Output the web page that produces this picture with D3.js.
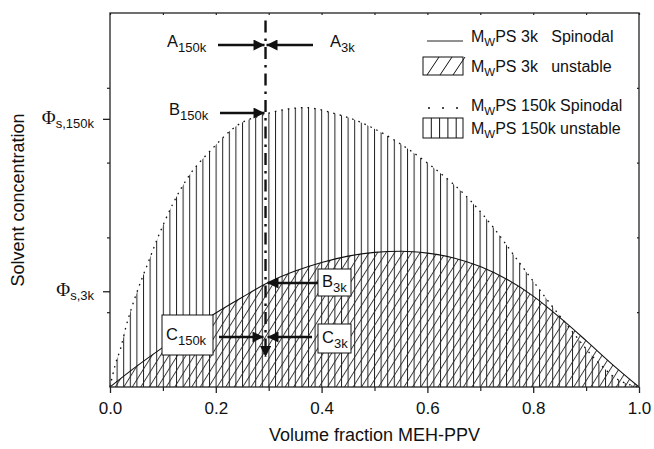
<!DOCTYPE html>
<html>
<head>
<meta charset="utf-8">
<script src="https://cdn.jsdelivr.net/npm/d3@7"></script>
<style>
  body { margin: 0; background: #fff; }
  svg text { font-family: "Liberation Sans", Arial, sans-serif; fill: #111; white-space: pre; }
  .serif { font-family: "Liberation Serif", "Times New Roman", serif; }
</style>
</head>
<body>
<div id="chart"></div>
<script>
// spinodal of MwPS 3k
const x3k = [0, 0.05, 0.1, 0.15, 0.2, 0.25, 0.3, 0.35, 0.4, 0.45, 0.5, 0.55, 0.6, 0.65, 0.7, 0.75, 0.8, 0.85, 0.9, 0.95, 1.0];
const spin3k = [0, 0.055, 0.106, 0.153, 0.198, 0.24, 0.28, 0.31, 0.333, 0.35, 0.36, 0.363, 0.358, 0.345, 0.322, 0.288, 0.243, 0.186, 0.124, 0.06, 0];

// spinodal of MwPS 150k
const x150k = [0, 0.01, 0.02, 0.03, 0.05, 0.07, 0.09, 0.12, 0.15, 0.19, 0.24, 0.29, 0.33, 0.37, 0.42, 0.47, 0.52, 0.57, 0.62, 0.67, 0.72, 0.77, 0.82, 0.87, 0.92, 0.96, 1.0];
const spin150k = [0, 0.06, 0.103, 0.16, 0.25, 0.325, 0.398, 0.493, 0.566, 0.632, 0.699, 0.728, 0.742, 0.747, 0.733, 0.71, 0.675, 0.63, 0.577, 0.515, 0.435, 0.34, 0.245, 0.155, 0.07, 0.02, 0];

const xTicks = [0, 0.2, 0.4, 0.6, 0.8, 1.0];
const xMinor = [0.1, 0.3, 0.5, 0.7, 0.9];
const yMinor = [0.2, 0.4, 0.6, 0.8];
const phiLevels = [0.256, 0.717];
const phiSubs = ['s,3k', 's,150k'];
const markX = 0.294;

const width = 654, height = 449;
const margin = {top: 13, right: 15, bottom: 62, left: 110};

const xScale = d3.scaleLinear().domain([0, 1]).range([margin.left, width - margin.right]);
const yScale = d3.scaleLinear().domain([0, 1]).range([height - margin.bottom, margin.top]);

const svg = d3.select('#chart').append('svg')
    .attr('width', width)
    .attr('height', height);

const defs = svg.append('defs');

// vertical hatch for 150k unstable region
const vPat = defs.append('pattern')
    .attr('id', 'vhatch')
    .attr('patternUnits', 'userSpaceOnUse')
    .attr('x', xScale(0))
    .attr('width', 6.6)
    .attr('height', 10);
vPat.append('line')
    .attr('x1', 0.5).attr('x2', 0.5).attr('y1', 0).attr('y2', 10)
    .style('stroke', '#222').style('stroke-width', 1);

// diagonal hatch for 3k unstable region
const dPat = defs.append('pattern')
    .attr('id', 'dhatch')
    .attr('patternUnits', 'userSpaceOnUse')
    .attr('width', 7.2)
    .attr('height', 10)
    .attr('patternTransform', 'rotate(32)');
dPat.append('line')
    .attr('x1', 0.5).attr('x2', 0.5).attr('y1', 0).attr('y2', 10)
    .style('stroke', '#222').style('stroke-width', 0.9);

// arrow head marker
defs.append('marker')
    .attr('id', 'head')
    .attr('viewBox', '0 0 10 10')
    .attr('refX', 10).attr('refY', 5)
    .attr('markerUnits', 'userSpaceOnUse')
    .attr('markerWidth', 15).attr('markerHeight', 11)
    .attr('orient', 'auto')
  .append('path')
    .attr('d', 'M0,0 L10,5 L0,10 Z')
    .style('fill', '#111');

const line = d3.line()
    .x(d => xScale(d[0]))
    .y(d => yScale(d[1]))
    .curve(d3.curveMonotoneX);

const area = d3.area()
    .x(d => xScale(d[0]))
    .y0(yScale(0))
    .y1(d => yScale(d[1]))
    .curve(d3.curveMonotoneX);

const pts3k = x3k.map((x, i) => [x, spin3k[i]]);
const pts150k = x150k.map((x, i) => [x, spin150k[i]]);

// unstable regions
svg.append('path').datum(pts150k)
    .attr('d', area)
    .style('fill', 'url(#vhatch)');
svg.append('path').datum(pts3k)
    .attr('d', area)
    .style('fill', 'url(#dhatch)');

// spinodals
svg.append('path').datum(pts150k)
    .attr('d', line)
    .style('fill', 'none')
    .style('stroke', '#111')
    .style('stroke-width', 1.3)
    .style('stroke-dasharray', '1.6,5');
svg.append('path').datum(pts3k)
    .attr('d', line)
    .style('fill', 'none')
    .style('stroke', '#111')
    .style('stroke-width', 1.1);

// frame
svg.append('rect')
    .attr('x', xScale(0)).attr('y', yScale(1))
    .attr('width', xScale(1) - xScale(0))
    .attr('height', yScale(0) - yScale(1))
    .style('fill', 'none').style('stroke', '#222').style('stroke-width', 1.3);

// bottom axis
const xAxis = d3.axisBottom(xScale)
    .tickValues(xTicks)
    .tickFormat(d3.format('.1f'))
    .tickSize(6)
    .tickPadding(9);
const gx = svg.append('g')
    .attr('transform', 'translate(0,' + yScale(0) + ')')
    .call(xAxis);
gx.select('.domain').remove();
gx.selectAll('line').style('stroke', '#222').style('stroke-width', 1.3);
gx.selectAll('text').style('font-size', '17px').style('font-family', '"Liberation Sans", Arial, sans-serif').style('fill', '#111');

svg.append('g')
    .attr('transform', 'translate(0,' + yScale(0) + ')')
    .call(d3.axisBottom(xScale).tickValues(xMinor).tickSize(4).tickFormat(''))
    .call(g => g.select('.domain').remove())
    .selectAll('line').style('stroke', '#222').style('stroke-width', 1.2);

// top axis ticks (inward)
svg.append('g')
    .attr('transform', 'translate(0,' + yScale(1) + ')')
    .call(d3.axisBottom(xScale).tickValues(xTicks.concat(xMinor)).tickSize(2).tickFormat(''))
    .call(g => g.select('.domain').remove())
    .selectAll('line').style('stroke', '#222').style('stroke-width', 1.2);

// left axis: minor ticks and phi ticks
svg.append('g')
    .attr('transform', 'translate(' + xScale(0) + ',0)')
    .call(d3.axisLeft(yScale).tickValues(yMinor).tickSize(3).tickFormat(''))
    .call(g => g.select('.domain').remove())
    .selectAll('line').style('stroke', '#222').style('stroke-width', 1.2);
svg.append('g')
    .attr('transform', 'translate(' + xScale(0) + ',0)')
    .call(d3.axisLeft(yScale).tickValues(phiLevels).tickSize(7).tickFormat(''))
    .call(g => g.select('.domain').remove())
    .selectAll('line').style('stroke', '#222').style('stroke-width', 1.3);

// right axis ticks (inward)
svg.append('g')
    .attr('transform', 'translate(' + xScale(1) + ',0)')
    .call(d3.axisLeft(yScale).tickValues(yMinor).tickSize(2).tickFormat(''))
    .call(g => g.select('.domain').remove())
    .selectAll('line').style('stroke', '#222').style('stroke-width', 1.2);

// phi labels
phiLevels.forEach(function(v, i){
    const t = svg.append('text')
        .attr('x', xScale(0) - 16)
        .attr('y', yScale(v) + 5)
        .attr('text-anchor', 'end');
    t.append('tspan').attr('class', 'serif').style('font-size', '19px').text('\u03A6');
    t.append('tspan').attr('dy', 4).style('font-size', '13px').text(phiSubs[i]);
});

// axis titles
svg.append('text')
    .attr('x', (xScale(0) + xScale(1)) / 2)
    .attr('y', 441)
    .attr('text-anchor', 'middle')
    .style('font-size', '18px')
    .text('Volume fraction MEH-PPV');
svg.append('text')
    .attr('transform', 'translate(24,' + (yScale(0) + yScale(1)) / 2 + ') rotate(-90)')
    .attr('text-anchor', 'middle')
    .style('font-size', '18px')
    .text('Solvent concentration');

// dash-dot marker line with arrow
svg.append('line')
    .attr('x1', xScale(markX)).attr('x2', xScale(markX))
    .attr('y1', yScale(0.98)).attr('y2', yScale(0.08))
    .attr('marker-end', 'url(#head)')
    .style('stroke', '#111')
    .style('stroke-width', 2.4)
    .style('stroke-dasharray', '12,6,2.5,6');

function subLabel(x, y, main, sub, anchor){
    const t = svg.append('text')
        .attr('x', x).attr('y', y)
        .attr('text-anchor', anchor || 'start');
    t.append('tspan').style('font-size', '16.5px').text(main);
    t.append('tspan').attr('dy', 5).style('font-size', '13px').text(sub);
    return t;
}

function arrow(x1, x2, y){
    svg.append('line')
        .attr('x1', x1).attr('x2', x2)
        .attr('y1', y).attr('y2', y)
        .attr('marker-end', 'url(#head)')
        .style('stroke', '#111')
        .style('stroke-width', 2.6);
}

function boxLabel(x, y, w, h, main, sub){
    svg.append('rect')
        .attr('x', x).attr('y', y).attr('width', w).attr('height', h)
        .style('fill', '#fff').style('stroke', '#111').style('stroke-width', 1);
    subLabel(x + 4, y + h / 2 + 4.5, main, sub);
}

const lx = xScale(markX);

// A
subLabel(167, 47, 'A', '150k');
arrow(218, lx - 1, 45);
arrow(313, lx + 1, 45);
subLabel(330, 47, 'A', '3k');

// B
subLabel(169, 115, 'B', '150k');
arrow(220, lx - 1, 113);
boxLabel(318, 269, 33, 27, 'B', '3k');
arrow(318, lx + 2, 283);

// C
boxLabel(162, 315, 51, 40, 'C', '150k');
arrow(219, lx - 2, 337);
boxLabel(318, 324, 33, 29, 'C', '3k');
arrow(312, lx + 2, 337);

// legend
const legX = 423, legText = 471;
const legRows = [
    {y: 42, main: 'PS 3k   Spinodal'},
    {y: 72, main: 'PS 3k   unstable'},
    {y: 111, main: 'PS 150k Spinodal'},
    {y: 134, main: 'PS 150k unstable'}
];

svg.append('line')
    .attr('x1', legX + 4).attr('x2', legX + 40)
    .attr('y1', 41).attr('y2', 41)
    .style('stroke', '#222').style('stroke-width', 1);

svg.append('rect')
    .attr('x', legX).attr('y', 57).attr('width', 40).attr('height', 18)
    .style('fill', 'none').style('stroke', '#111').style('stroke-width', 1);
[0, 1, 2].forEach(function(i){
    svg.append('line')
        .attr('x1', legX + 4 + i * 13).attr('y1', 75)
        .attr('x2', legX + 16 + i * 13).attr('y2', 57)
        .style('stroke', '#111').style('stroke-width', 1);
});

svg.append('line')
    .attr('x1', legX + 5).attr('x2', legX + 36)
    .attr('y1', 108).attr('y2', 108)
    .style('stroke', '#111').style('stroke-width', 1.6)
    .style('stroke-dasharray', '2,12');

svg.append('rect')
    .attr('x', legX).attr('y', 118).attr('width', 40).attr('height', 20)
    .style('fill', 'none').style('stroke', '#111').style('stroke-width', 1);
[1, 2, 3, 4].forEach(function(i){
    svg.append('line')
        .attr('x1', legX + i * 8.3).attr('x2', legX + i * 8.3)
        .attr('y1', 118).attr('y2', 138)
        .style('stroke', '#111').style('stroke-width', 1);
});

legRows.forEach(function(r){
    const t = svg.append('text')
        .attr('x', legText).attr('y', r.y)
        .style('font-size', '16px');
    t.append('tspan').text('M');
    t.append('tspan').attr('dy', 4).style('font-size', '11.5px').text('W');
    t.append('tspan').attr('dy', -4).text(r.main);
});
</script>
</body>
</html>
